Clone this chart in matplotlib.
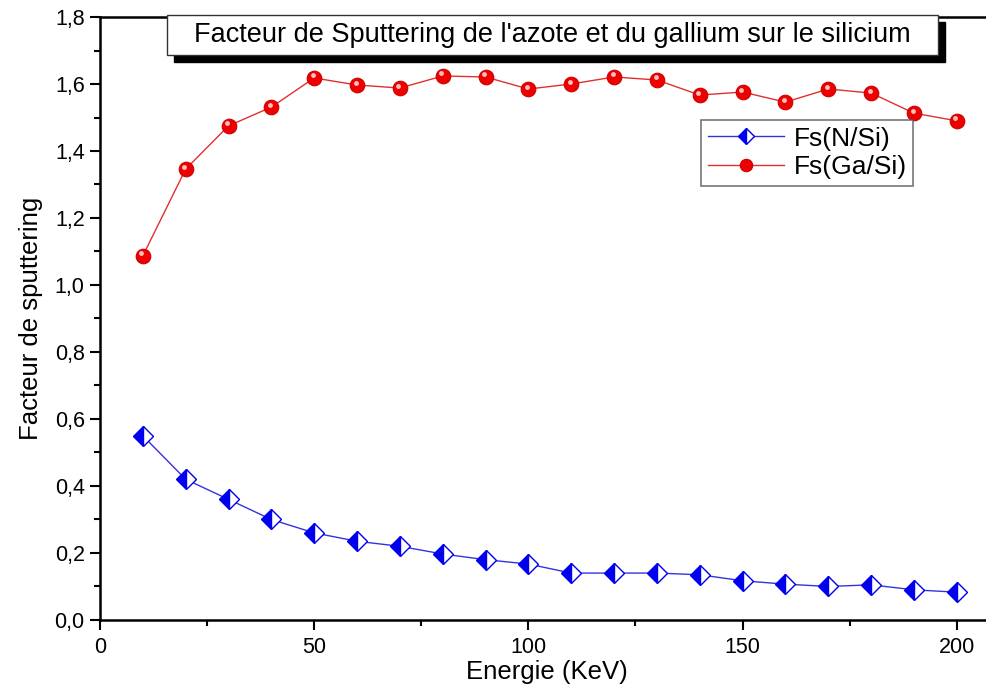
import matplotlib
matplotlib.use("Agg")
import matplotlib.pyplot as plt
from matplotlib.ticker import MultipleLocator, FuncFormatter
from matplotlib.patches import Rectangle
import matplotlib.transforms as mtransforms

plt.rcParams['font.family'] = ['Liberation Sans', 'DejaVu Sans']

energie = [10, 20, 30, 40, 50, 60, 70, 80, 90, 100,
           110, 120, 130, 140, 150, 160, 170, 180, 190, 200]
fs_n_si = [0.55, 0.42, 0.36, 0.30, 0.26, 0.235, 0.22, 0.197, 0.18, 0.167,
           0.14, 0.14, 0.14, 0.135, 0.117, 0.107, 0.10, 0.105, 0.09, 0.083]
fs_ga_si = [1.087, 1.346, 1.475, 1.531, 1.618, 1.597, 1.588, 1.624, 1.621, 1.585,
            1.60, 1.621, 1.612, 1.567, 1.576, 1.546, 1.585, 1.573, 1.513, 1.49]

fig = plt.figure(figsize=(9.87, 6.97), dpi=100)
ax = fig.add_axes([0.1013, 0.1105, 0.905, 0.8651])

ax.plot(energie, fs_n_si, color='#3333dd', lw=1.0, marker='D', markersize=10,
        fillstyle='left', markerfacecolor='#0000ee', markerfacecoloralt='white',
        markeredgecolor='#0000ee', markeredgewidth=1.0, label='Fs(N/Si)', zorder=3)
ax.plot(energie, fs_ga_si, color='#e03030', lw=1.0, marker='o', markersize=10.5,
        markerfacecolor='#ee0000', markeredgecolor='#cc0000', markeredgewidth=0.8,
        label='Fs(Ga/Si)', zorder=3)
# glossy highlight on the spheres
hl = mtransforms.offset_copy(ax.transData, fig=fig, x=-1.0, y=1.8, units='points')
ax.plot(energie, fs_ga_si, ls='none', marker='o', markersize=3.5,
        markerfacecolor='#ffc0c0', markeredgecolor='none', transform=hl, zorder=4)

ax.set_xlim(0, 208.5)
ax.set_ylim(0, 1.8)
ax.xaxis.set_major_locator(MultipleLocator(50))
ax.xaxis.set_minor_locator(MultipleLocator(25))
ax.yaxis.set_major_locator(MultipleLocator(0.2))
ax.yaxis.set_minor_locator(MultipleLocator(0.1))
ax.yaxis.set_major_formatter(FuncFormatter(lambda v, p: f"{v:.1f}".replace('.', ',')))
ax.tick_params(which='both', direction='out', width=1.5, labelsize=15.5, colors='black')
ax.tick_params(which='major', length=7)
ax.tick_params(which='minor', length=4)
ax.tick_params(axis='x', pad=5)
ax.tick_params(axis='y', pad=4)
for s in ax.spines.values():
    s.set_linewidth(1.8)
ax.spines['right'].set_visible(False)

ax.set_xlabel('Energie (KeV)', fontsize=18.5, labelpad=2)
ax.set_ylabel('Facteur de sputtering', fontsize=18.5, labelpad=8)

leg = ax.legend(loc='upper left', bbox_to_anchor=(0.673, 0.829), fontsize=19,
                frameon=True, fancybox=False, edgecolor='#555555',
                handlelength=2.9, borderpad=0.25, labelspacing=0.17,
                handletextpad=0.35, borderaxespad=0, markerscale=0.85)
leg.get_frame().set_linewidth(1.2)

# title box with drop shadow
bx0, by0, bw, bh = 167 / 987, 1 - 55 / 697, (938 - 167) / 987, 40 / 697
sx, sy = 7 / 987, -7 / 697
fig.patches.append(Rectangle((bx0 + sx, by0 + sy), bw, bh, transform=fig.transFigure,
                             facecolor='black', edgecolor='black', zorder=5))
fig.patches.append(Rectangle((bx0, by0), bw, bh, transform=fig.transFigure,
                             facecolor='white', edgecolor='#333333', lw=1.0, zorder=6))
fig.text(bx0 + bw / 2, by0 + bh / 2,
         "Facteur de Sputtering de l'azote et du gallium sur le silicium",
         ha='center', va='center', fontsize=19.5, zorder=7)

fig.savefig('out.png', dpi=100)
